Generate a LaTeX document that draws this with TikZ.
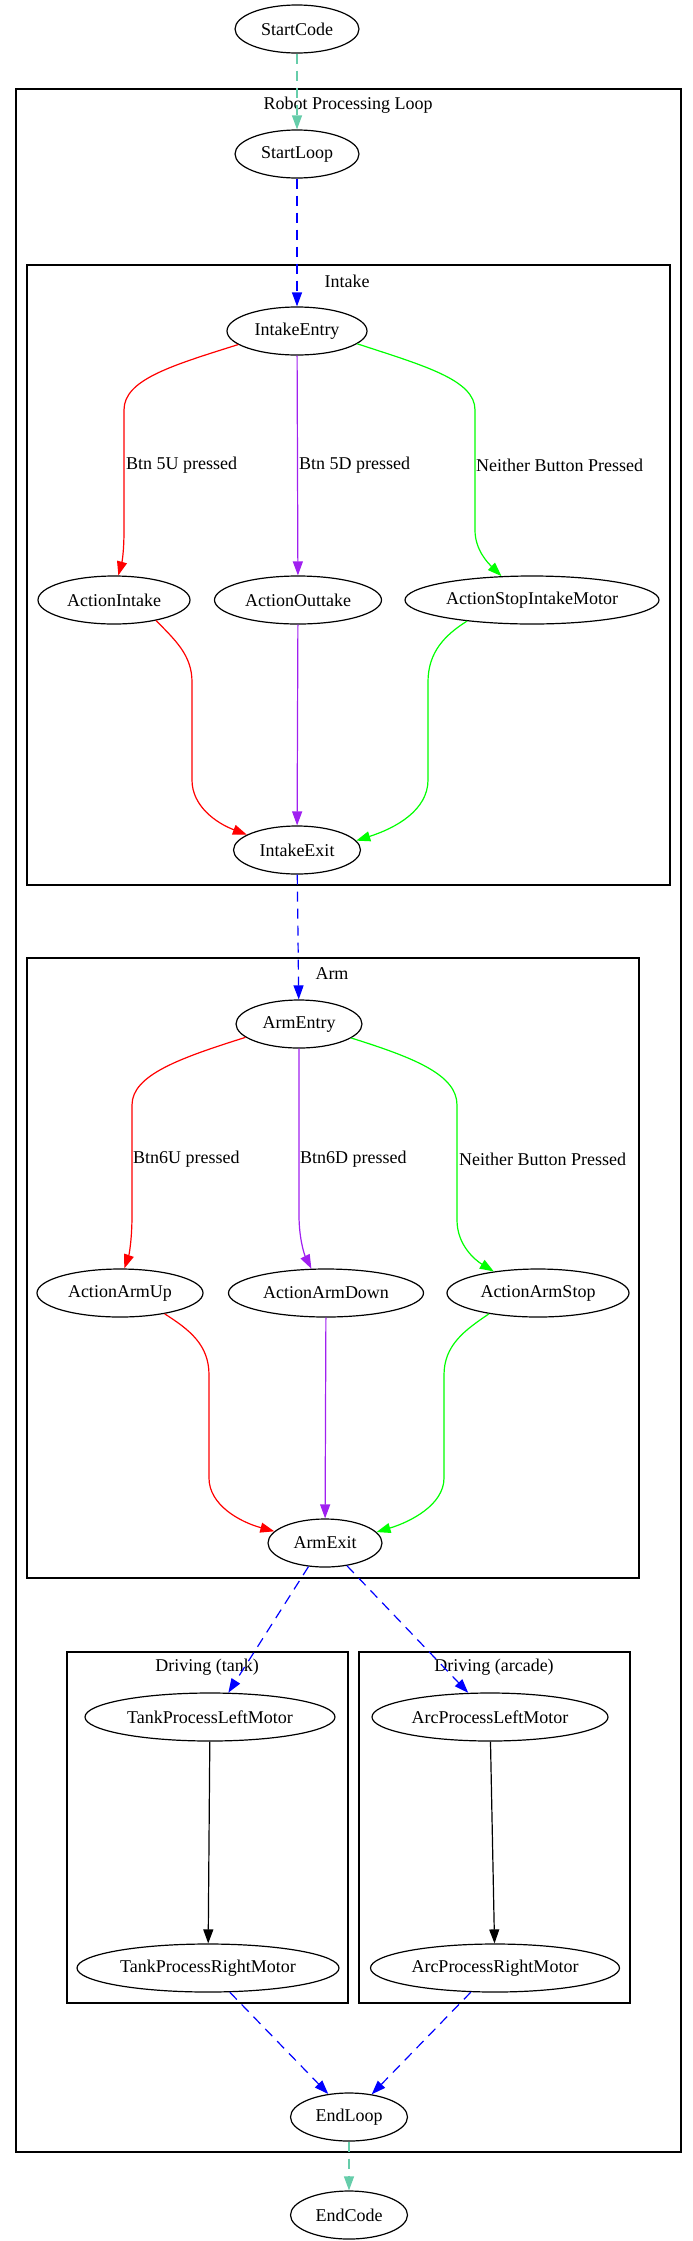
\documentclass[tikz,border=0pt]{standalone}
\usepackage{fontspec}
\setmainfont{Liberation Serif}
\usetikzlibrary{arrows.meta,shapes.geometric}
\definecolor{gvred}{RGB}{255,0,0}
\definecolor{gvgreen}{RGB}{0,255,0}
\definecolor{gvpurple}{RGB}{160,32,240}
\definecolor{gvblue}{RGB}{0,0,255}
\definecolor{gvteal}{RGB}{102,205,170}
\begin{document}
\begin{tikzpicture}[x=1pt,y=-1pt,
  every node/.style={font=\fontsize{18}{20}\selectfont},
  gvnode/.style={ellipse,draw,line width=1.2pt,inner sep=0pt,minimum height=48pt},
  cluster/.style={draw,line width=1.4pt},
  edge/.style={line width=1.2pt,-{Triangle[length=14pt,width=10pt]}},
  flow/.style={edge,gvblue,dash pattern=on 10pt off 7pt},
  term/.style={edge,gvteal,dash pattern=on 10pt off 7pt},
  lbl/.style={anchor=west,inner sep=0pt},
  clbl/.style={inner sep=0pt}]
\useasboundingbox (0,0) rectangle (693,2241);

% clusters
\draw[cluster] (16,89) rectangle (681,2152);
\draw[cluster] (27,265) rectangle (670,885);
\draw[cluster] (27,958) rectangle (639,1578);
\draw[cluster] (67,1652) rectangle (348,2003);
\draw[cluster] (359,1652) rectangle (630,2003);
\node[clbl] (lRobot) at (348,105) {Robot Processing Loop};
\node[clbl] (lIntake) at (347,281) {Intake};
\node[clbl] (lArm) at (332,974) {Arm};
\node[clbl] (lTank) at (207,1667) {Driving (tank)};
\node[clbl] (lArc) at (494,1667) {Driving (arcade)};

% nodes
\node[gvnode,minimum width=124pt] (StartCode) at (297,29) {StartCode};
\node[gvnode,minimum width=124pt] (StartLoop) at (297,154) {StartLoop};
\node[gvnode,minimum width=140pt] (IntakeEntry) at (297,331) {IntakeEntry};
\node[gvnode,minimum width=152pt] (ActionIntake) at (114,600) {ActionIntake};
\node[gvnode,minimum width=167pt] (ActionOuttake) at (298,600) {ActionOuttake};
\node[gvnode,minimum width=254pt] (ActionStopIntakeMotor) at (532,600) {ActionStopIntakeMotor};
\node[gvnode,minimum width=127pt] (IntakeExit) at (297,850) {IntakeExit};
\node[gvnode,minimum width=126pt] (ArmEntry) at (299,1024) {ArmEntry};
\node[gvnode,minimum width=166pt] (ActionArmUp) at (120,1293) {ActionArmUp};
\node[gvnode,minimum width=195pt] (ActionArmDown) at (326,1293) {ActionArmDown};
\node[gvnode,minimum width=182pt] (ActionArmStop) at (538,1293) {ActionArmStop};
\node[gvnode,minimum width=114pt] (ArmExit) at (325,1543) {ArmExit};
\node[gvnode,minimum width=250pt] (TankL) at (210,1717) {TankProcessLeftMotor};
\node[gvnode,minimum width=262pt] (TankR) at (208,1968) {TankProcessRightMotor};
\node[gvnode,minimum width=236pt] (ArcL) at (490,1717) {ArcProcessLeftMotor};
\node[gvnode,minimum width=249pt] (ArcR) at (495,1968) {ArcProcessRightMotor};
\node[gvnode,minimum width=117pt] (EndLoop) at (349,2117) {EndLoop};
\node[gvnode,minimum width=117pt] (EndCode) at (349,2215) {EndCode};

% edge labels
\node[lbl] (l5U) at (126,465) {Btn 5U pressed};
\node[lbl] (l5D) at (299,465) {Btn 5D pressed};
\node[lbl] (l5N) at (476,465) {Neither Button Pressed};
\node[lbl] (l6U) at (133,1159) {Btn6U pressed};
\node[lbl] (l6D) at (300,1159) {Btn6D pressed};
\node[lbl] (l6N) at (459,1159) {Neither Button Pressed};

% edges
\draw[term] (StartCode) -- (StartLoop);
\draw[flow] (StartLoop) -- (IntakeEntry);

\draw[edge,gvred] (IntakeEntry.193) .. controls (170,366) and (124,380) .. (124,410) -- (124,530) .. controls (124,552) and (122,562) .. (ActionIntake.80);
\draw[edge,gvpurple] (IntakeEntry) -- (ActionOuttake);
\draw[edge,gvgreen] (IntakeEntry.348) .. controls (425,366) and (475,380) .. (475,410) -- (475,530) .. controls (475,550) and (488,563) .. (ActionStopIntakeMotor.142);

\draw[edge,gvred] (ActionIntake.334) .. controls (175,640) and (192,655) .. (192,682) -- (192,780) .. controls (192,806) and (216,823) .. (IntakeExit.163);
\draw[edge,gvpurple] (ActionOuttake) -- (IntakeExit);
\draw[edge,gvgreen] (ActionStopIntakeMotor.198) .. controls (445,635) and (428,652) .. (428,682) -- (428,780) .. controls (428,810) and (396,828) .. (IntakeExit.9);

\draw[flow] (IntakeExit) -- (ArmEntry);

\draw[edge,gvred] (ArmEntry.194) .. controls (180,1058) and (132,1075) .. (132,1105) -- (132,1215) .. controls (132,1240) and (129,1255) .. (ActionArmUp.80);
\draw[edge,gvpurple] (ArmEntry.south) -- (299,1215) .. controls (299,1240) and (305,1256) .. (ActionArmDown.121);
\draw[edge,gvgreen] (ArmEntry.345) .. controls (415,1058) and (457,1075) .. (457,1105) -- (457,1220) .. controls (457,1245) and (475,1260) .. (ActionArmStop.154);

\draw[edge,gvred] (ActionArmUp.335) .. controls (190,1330) and (209,1345) .. (209,1375) -- (209,1478) .. controls (209,1505) and (240,1522) .. (ArmExit.167);
\draw[edge,gvpurple] (ActionArmDown) -- (ArmExit);
\draw[edge,gvgreen] (ActionArmStop.203) .. controls (465,1330) and (444,1345) .. (444,1375) -- (444,1478) .. controls (444,1505) and (410,1522) .. (ArmExit.12);

\draw[flow] (ArmExit.235) -- (TankL.53);
\draw[flow] (ArmExit.314) -- (ArcL.132);
\draw[edge,black] (TankL) -- (TankR);
\draw[edge,black] (ArcL) -- (ArcR);
\draw[flow] (TankR.312) -- (EndLoop.132);
\draw[flow] (ArcR.225) -- (EndLoop.45);
\draw[term] (EndLoop) -- (EndCode);
\end{tikzpicture}
\end{document}
